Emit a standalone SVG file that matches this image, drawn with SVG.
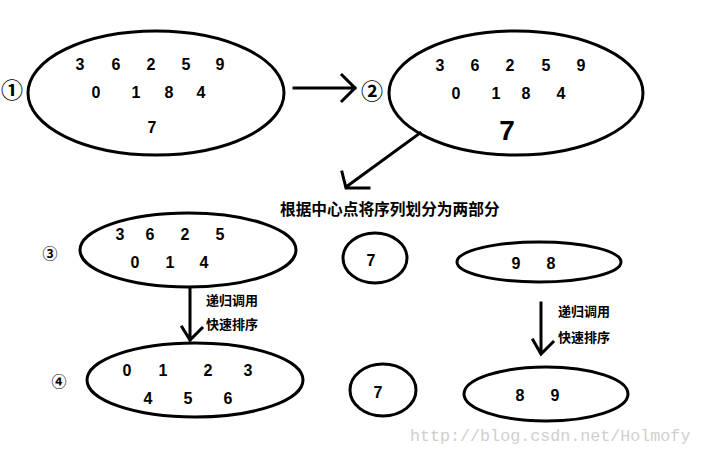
<svg xmlns="http://www.w3.org/2000/svg" width="701" height="453" viewBox="0 0 701 453">
<style>
.e{fill:none;stroke:#000;stroke-width:3}
.c{fill:none;stroke:#000;stroke-width:3;stroke-linecap:square}
.n{font-family:"Liberation Sans","Noto Sans CJK SC",sans-serif;font-weight:bold;font-size:16px;text-anchor:middle;dominant-baseline:central;fill:#000}
.cn{font-family:"Noto Sans CJK SC",sans-serif;font-weight:bold;font-size:13px;fill:#000;dominant-baseline:central}
.k{font-family:"Noto Sans CJK SC","DejaVu Sans",sans-serif;font-weight:bold;text-anchor:middle;dominant-baseline:central;fill:#000}
</style>
<rect width="701" height="453" fill="#fff"/>
<g id="connectors">
<path class="c" d="M294,88 H355 M342,75 L355,88 L342,101"/>
<path class="c" d="M420,133 L346,187 M342,172 L346,188 L369,188"/>
<path class="c" d="M190,288 V340 M182,327 L190,340 L202,328"/>
<path class="c" d="M541,303 V353 M533,340 L541,354 L553,342"/>
</g>
<g id="label1"><text class="k" x="12" y="88" style="font-size:22px">①</text></g>
<g id="node1">
<ellipse class="e" cx="156" cy="93" rx="128" ry="62"/>
<text class="n" x="80" y="64">3</text><text class="n" x="116" y="64">6</text><text class="n" x="151" y="64">2</text><text class="n" x="186" y="64">5</text><text class="n" x="220" y="64">9</text>
<text class="n" x="96" y="92">0</text><text class="n" x="136" y="92">1</text><text class="n" x="169" y="92">8</text><text class="n" x="201" y="92">4</text>
<text class="n" x="152" y="127">7</text>
</g>
<g id="label2"><text class="k" x="372" y="89" style="font-size:22px">②</text></g>
<g id="node2">
<ellipse class="e" cx="516" cy="93" rx="127" ry="62"/>
<text class="n" x="440" y="65">3</text><text class="n" x="475" y="65">6</text><text class="n" x="510" y="65">2</text><text class="n" x="546" y="65">5</text><text class="n" x="581" y="65">9</text>
<text class="n" x="456" y="93">0</text><text class="n" x="496" y="93">1</text><text class="n" x="526" y="93">8</text><text class="n" x="561" y="93">4</text>
<text class="n" x="507" y="130" style="font-size:28px">7</text>
</g>
<g id="title"><text class="cn" x="280" y="208" style="font-size:15.7px">根据中心点将序列划分为两部分</text></g>
<g id="label3"><text class="k" x="50" y="252" style="font-size:15px">③</text></g>
<g id="node3">
<ellipse class="e" cx="188" cy="250" rx="108" ry="37"/>
<text class="n" x="120" y="234">3</text><text class="n" x="150" y="234">6</text><text class="n" x="185" y="234">2</text><text class="n" x="220" y="234">5</text>
<text class="n" x="135" y="262">0</text><text class="n" x="170" y="262">1</text><text class="n" x="204" y="262">4</text>
</g>
<g id="node3b">
<ellipse class="e" cx="375" cy="258" rx="32" ry="25"/>
<text class="n" x="371" y="260">7</text>
</g>
<g id="node3c">
<ellipse class="e" cx="539" cy="262" rx="82" ry="20"/>
<text class="n" x="516" y="263">9</text><text class="n" x="551" y="263">8</text>
</g>
<g id="labels-left">
<text class="cn" x="206" y="299">递归调用</text>
<text class="cn" x="206" y="323">快速排序</text>
</g>
<g id="labels-right">
<text class="cn" x="558" y="310">递归调用</text>
<text class="cn" x="558" y="336">快速排序</text>
</g>
<g id="label4"><text class="k" x="59" y="380" style="font-size:15px">④</text></g>
<g id="node4">
<ellipse class="e" cx="195" cy="380" rx="108" ry="37"/>
<text class="n" x="127" y="370">0</text><text class="n" x="163" y="370">1</text><text class="n" x="208" y="370">2</text><text class="n" x="248" y="370">3</text>
<text class="n" x="148" y="398">4</text><text class="n" x="188" y="398">5</text><text class="n" x="228" y="398">6</text>
</g>
<g id="node4b">
<ellipse class="e" cx="383" cy="390" rx="33" ry="26"/>
<text class="n" x="378" y="392">7</text>
</g>
<g id="node4c">
<ellipse class="e" cx="546" cy="394" rx="82" ry="27"/>
<text class="n" x="520" y="395">8</text><text class="n" x="555" y="395">9</text>
</g>
<text x="410" y="441" font-family="Liberation Mono, monospace" font-size="16.7" fill="#cfcfcf">http://blog.csdn.net/Holmofy</text>
</svg>
